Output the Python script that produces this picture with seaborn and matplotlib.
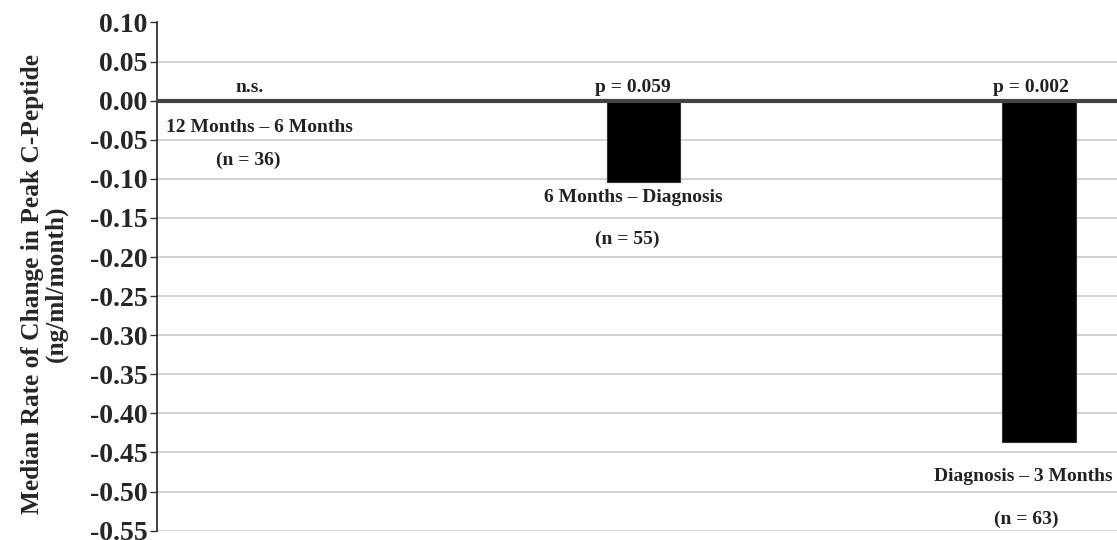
import matplotlib
matplotlib.use('Agg')
import matplotlib.pyplot as plt
import seaborn as sns
import numpy as np
import pandas as pd

intervals = ['12 Months \u2013 6 Months', '6 Months \u2013 Diagnosis', 'Diagnosis \u2013 3 Months']
n_counts = [36, 55, 63]
median_rate = [-0.001, -0.104, -0.437]
p_labels = ['n.s.', 'p = 0.059', 'p = 0.002']
y_ticks = [0.10, 0.05, 0.00, -0.05, -0.10, -0.15, -0.20, -0.25, -0.30, -0.35, -0.40, -0.45, -0.50, -0.55]

# where the text sits (layout only, offsets from each bar centre)
p_dx = [0.005, -0.027, -0.02]
name_dx = [0.028, -0.027, -0.04]
n_dx = [0.0, -0.042, -0.033]
name_y = [-0.034, -0.124, -0.481]
n_y = [-0.076, -0.178, -0.536]

sns.set_style('white')
plt.rcParams['font.family'] = ['Liberation Serif', 'DejaVu Serif']
plt.rcParams['font.weight'] = 'bold'

df = pd.DataFrame({'interval': intervals, 'rate': median_rate})

fig = plt.figure(figsize=(11.17, 5.40), dpi=100)
ax = fig.add_axes([157 / 1117, 9.4 / 540, 1 - 157 / 1117, 508.1 / 540])

for t in y_ticks:
    if abs(t) > 1e-9:
        ax.axhline(t, color='#c8c8c8', lw=1.1, zorder=0)

sns.barplot(data=df, x='interval', y='rate', color='black', width=0.185,
            saturation=1, edgecolor='#333333', linewidth=0.8, ax=ax, zorder=2)

ax.axhline(0, color='#444444', lw=3, zorder=3)

ax.set_xlim(-0.23, 2.197)
ax.set_ylim(-0.55, 0.10)
ax.set_yticks(y_ticks)
ax.set_yticklabels([f'{t:.2f}' for t in y_ticks], fontsize=20, fontweight='bold')
ax.set_xticks([])
ax.set_xlabel('')
ax.set_ylabel('Median Rate of Change in Peak C-Peptide\n(ng/ml/month)',
              fontsize=18.3, fontweight='bold', linespacing=1.0)
ax.yaxis.set_label_coords(-0.093, 0.485)
ax.tick_params(axis='y', direction='out', length=5, width=1, color='#333333', pad=2, left=True)

for s in ['top', 'right', 'bottom']:
    ax.spines[s].set_visible(False)
ax.spines['left'].set_color('#222222')
ax.spines['left'].set_linewidth(1.2)

for i in range(len(intervals)):
    ax.text(i + p_dx[i], 0.006, p_labels[i], ha='center', va='bottom',
            fontsize=14, fontweight='bold', color='#222222')
    ax.text(i + name_dx[i], name_y[i], intervals[i], ha='center', va='center',
            fontsize=14, fontweight='bold', color='#222222')
    ax.text(i + n_dx[i], n_y[i], f'(n = {n_counts[i]})', ha='center', va='center',
            fontsize=14, fontweight='bold', color='#222222')

fig.savefig('out.png', dpi=100)
